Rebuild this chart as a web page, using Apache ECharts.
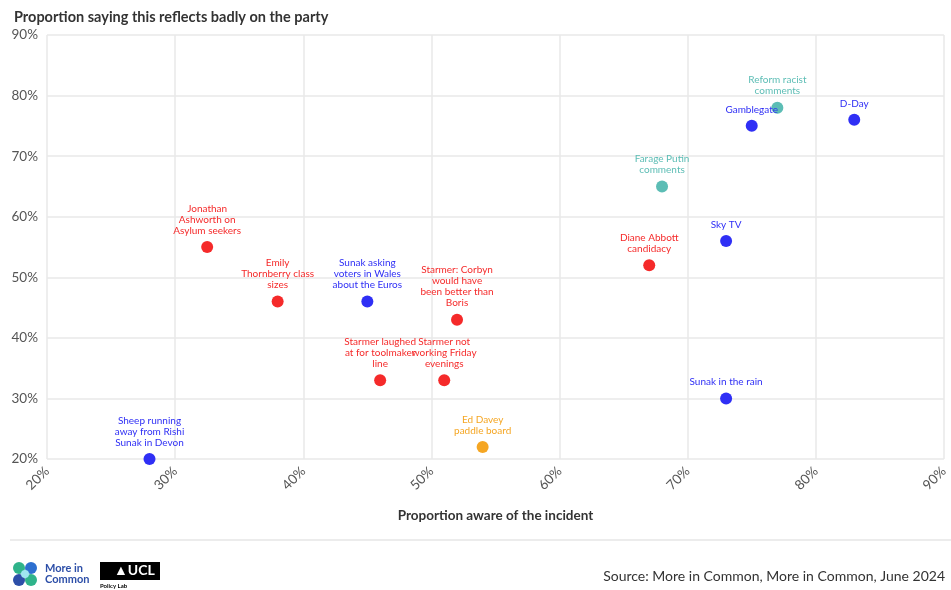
<!DOCTYPE html>
<html><head><meta charset="utf-8">
<script src="https://cdn.jsdelivr.net/npm/echarts@6/dist/echarts.min.js"></script>
<style>html,body{margin:0;padding:0;background:#fff}#c{width:951px;height:590px}</style>
</head><body><div id="c"></div>
<script>
var incidents = ["Sheep running\naway from Rishi\nSunak in Devon","Jonathan\nAshworth on\nAsylum seekers","Emily\nThornberry class\nsizes","Sunak asking\nvoters in Wales\nabout the Euros","Starmer laughed\nat for toolmaker\nline","Starmer not\nworking Friday\nevenings","Starmer: Corbyn\nwould have\nbeen better than\nBoris","Ed Davey\npaddle board","Diane Abbott\ncandidacy","Farage Putin\ncomments","Sky TV","Sunak in the rain","Gamblegate","Reform racist\ncomments","D-Day"];
var aware = [28,32.5,38,45,46,51,52,54,67,68,73,73,75,77,83];
var badly = [20,55,46,46,33,33,43,22,52,65,56,30,75,78,76];
var party = ["Con","Lab","Lab","Con","Lab","Lab","Lab","LD","Lab","Ref","Con","Con","Con","Ref","Con"];
var partyColors = {Con:"#2f2ff5",Lab:"#f52a2a",Ref:"#5cbdb5",LD:"#f5a623"};
var ticks = [20,30,40,50,60,70,80,90];

var font = "Lato, 'Open Sans', sans-serif";
var series = Object.keys(partyColors).map(function(p){
  var d=[];
  for(var i=0;i<incidents.length;i++) if(party[i]===p) d.push({value:[aware[i],badly[i]],name:incidents[i]});
  return {type:'scatter',name:p,data:d,symbolSize:12,
    itemStyle:{color:partyColors[p],opacity:1},
    label:{show:true,position:'top',distance:5,formatter:function(x){return x.name;},
      color:partyColors[p],fontSize:10,lineHeight:11,fontFamily:font,align:'center'}};
});

var chart = echarts.init(document.getElementById('c'));
chart.setOption({
  animation:false,
  grid:{left:47,right:6,top:35,bottom:131},
  title:{text:'Proportion saying this reflects badly on the party',left:9,top:5,
    textStyle:{fontSize:14.5,fontWeight:'bold',color:'#333',fontFamily:font}},
  xAxis:{type:'value',min:ticks[0],max:ticks[ticks.length-1],interval:10,
    name:'Proportion aware of the incident',nameLocation:'middle',nameGap:50,
    nameTextStyle:{fontSize:13.5,fontWeight:'bold',color:'#333',fontFamily:font},
    axisLine:{show:false},axisTick:{show:false},
    axisLabel:{rotate:45,formatter:'{value}%',fontSize:13.5,color:'#555',fontFamily:font,margin:10},
    splitLine:{show:true,lineStyle:{color:'#e8e8e8',width:1.5}}},
  yAxis:{type:'value',min:20,max:90,interval:10,
    axisLine:{show:false},axisTick:{show:false},
    axisLabel:{formatter:'{value}%',fontSize:13.5,color:'#555',fontFamily:font,margin:9},
    splitLine:{show:true,lineStyle:{color:'#e8e8e8',width:1.5}}},
  series:series,
  graphic:[
    {type:'line',shape:{x1:10,y1:540,x2:951,y2:540},style:{stroke:'#e6e6e6',lineWidth:1.5}},
    {type:'circle',shape:{cx:19,cy:568,r:6},style:{fill:'#2fb38a'}},
    {type:'circle',shape:{cx:31,cy:568,r:6},style:{fill:'#2d6fd0'}},
    {type:'circle',shape:{cx:19,cy:580,r:6},style:{fill:'#2d4fa8'}},
    {type:'circle',shape:{cx:31,cy:580,r:6},style:{fill:'#2fb38a'}},
    {type:'circle',shape:{cx:25,cy:574,r:4},style:{fill:'#9fe6f0'}},
    {type:'text',left:45,top:563,style:{text:'More in\nCommon',fill:'#2d4fa8',font:'bold 11px '+font,lineHeight:11}},
    {type:'rect',shape:{x:100,y:562,width:60,height:18},style:{fill:'#000'}},
    {type:'text',left:114,top:563,style:{text:'\u25B2UCL',fill:'#fff',font:'bold 14px '+font}},
    {type:'text',left:100,top:583,style:{text:'Policy Lab',fill:'#000',font:'bold 6px '+font}},
    {type:'text',right:6,top:569,style:{text:'Source: More in Common, More in Common, June 2024',fill:'#333',font:'14px '+font}}
  ]
});
</script></body></html>
